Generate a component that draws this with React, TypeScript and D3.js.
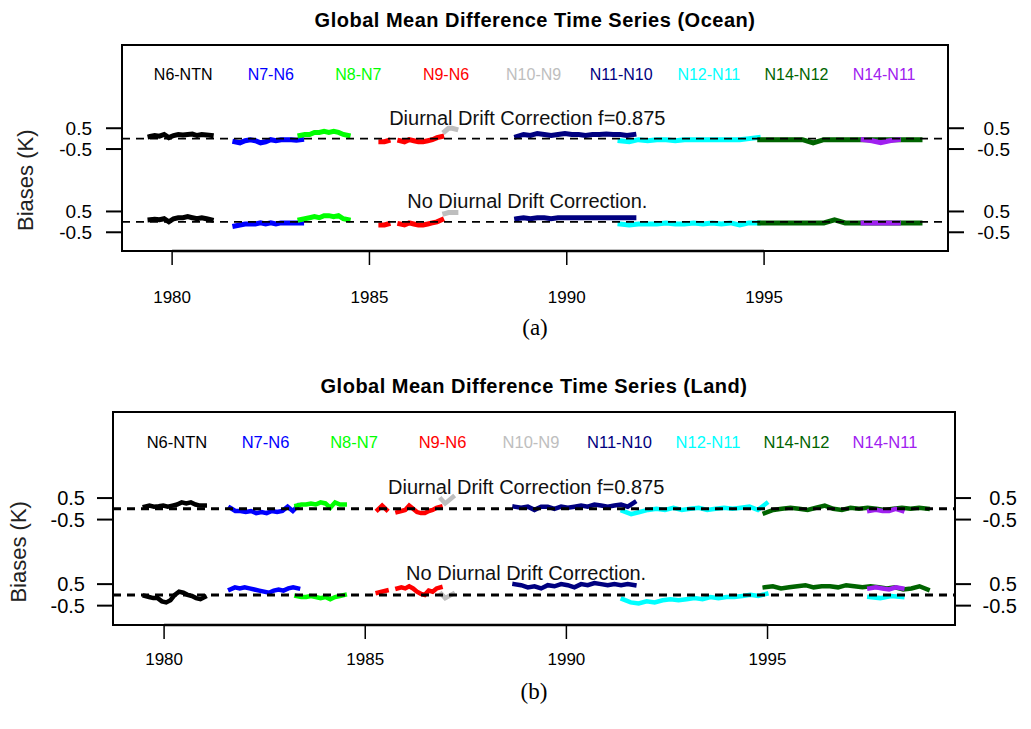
import React from 'react';
import * as d3 from 'd3';

// ---------------- data ----------------
const PAIRS = ['N6-NTN', 'N7-N6', 'N8-N7', 'N9-N6', 'N10-N9', 'N11-N10', 'N12-N11', 'N14-N12', 'N14-N11'];
const PAIR_COLORS = ['#000000', '#0000FF', '#00FF00', '#FF0000', '#BEBEBE', '#000080', '#00FFFF', '#006400', '#A020F0'];
const X_TICKS = [1980, 1985, 1990, 1995];
const Y_TICKS = [0.5, -0.5];
const Y_TICK_LABELS = ['0.5', '-0.5'];
const X_DOMAIN = [1978.73, 1999.66];
const Y_DOMAIN = [-1.4, 8.5];
const CORR_OFFSET = 4; // corrected series are drawn 4 K above the uncorrected ones
const LABEL_CORR = 'Diurnal Drift Correction f=0.875';
const LABEL_NOCORR = 'No Diurnal Drift Correction.';

// Ocean: segments (pair index, start year, end year)
const OCEAN_SEG_PAIR = [0, 1, 2, 3, 3, 4, 5, 6, 7, 8];
const OCEAN_SEG_START = [1979.44, 1981.59, 1983.24, 1985.29, 1985.77, 1986.91, 1988.73, 1991.35, 1994.89, 1997.51];
const OCEAN_SEG_END = [1980.99, 1983.28, 1984.46, 1985.47, 1986.83, 1987.19, 1991.70, 1994.85, 1998.95, 1998.40];

const OCEAN_CORR = [
  [0.1, 0.15, 0.12, 0.2, 0.05, 0.15, 0.2, 0.18, 0.2, 0.22, 0.15, 0.2, 0.18, 0.15],
  [-0.15, -0.2, -0.1, -0.05, -0.1, -0.2, -0.15, -0.05, -0.1, -0.05, -0.05, -0.05, -0.08, -0.05],
  [0.15, 0.2, 0.2, 0.3, 0.3, 0.35, 0.3, 0.35, 0.3, 0.2, 0.15],
  [-0.15, -0.15, -0.1],
  [-0.1, -0.15, -0.05, -0.1, -0.15, -0.15, -0.1, -0.05, 0.05, 0.1],
  [0.35, 0.5, 0.5, 0.45],
  [0.1, 0.2, 0.15, 0.25, 0.2, 0.15, 0.2, 0.25, 0.2, 0.2, 0.15, 0.2, 0.2, 0.22, 0.2, 0.2, 0.15, 0.2],
  [-0.1, -0.15, -0.05, -0.1, -0.05, -0.05, -0.1, -0.05, -0.05, -0.05, -0.05, -0.05, -0.05, -0.05, 0.0, 0.05],
  [-0.05, -0.05, -0.05, -0.05, -0.05, -0.2, -0.05, -0.05, -0.05, -0.05, -0.05, -0.05, -0.05, -0.05, -0.05, -0.05],
  [-0.05, -0.1, -0.2, -0.1, -0.05],
];

const OCEAN_NOCORR = [
  [0.1, 0.12, 0.1, 0.15, 0.0, 0.15, 0.2, 0.2, 0.25, 0.2, 0.15, 0.2, 0.15, 0.1],
  [-0.2, -0.15, -0.1, -0.1, -0.1, -0.05, -0.1, -0.05, -0.1, -0.05, -0.05, -0.05, -0.05, -0.05],
  [0.1, 0.15, 0.2, 0.25, 0.2, 0.3, 0.3, 0.25, 0.3, 0.15, 0.1],
  [-0.15, -0.15, -0.1],
  [-0.1, -0.15, -0.05, -0.1, -0.15, -0.15, -0.1, -0.05, 0.0, 0.1],
  [0.4, 0.45, 0.45, 0.45],
  [0.15, 0.2, 0.15, 0.2, 0.2, 0.15, 0.2, 0.2, 0.2, 0.2, 0.2, 0.2, 0.2, 0.2, 0.2, 0.2, 0.2, 0.2],
  [-0.1, -0.15, -0.1, -0.1, -0.1, -0.05, -0.1, -0.1, -0.05, -0.1, -0.05, -0.1, -0.05, -0.15, -0.05, -0.05],
  [-0.05, -0.05, -0.05, -0.05, -0.05, -0.05, -0.05, 0.1, -0.05, -0.05, -0.05, -0.05, -0.05, -0.05, -0.05, -0.05],
  [-0.05, -0.05, -0.05, -0.05, -0.05],
];

// Land: segments (pair index, start year, end year)
const LAND_SEG_PAIR = [0, 1, 2, 3, 3, 4, 5, 6, 6, 7, 8];
const LAND_SEG_START = [1979.52, 1981.64, 1983.29, 1985.31, 1985.80, 1986.89, 1988.71, 1991.40, 1997.53, 1994.93, 1997.53];
const LAND_SEG_END = [1981.01, 1983.33, 1984.49, 1985.53, 1986.87, 1987.18, 1991.69, 1994.97, 1998.35, 1998.98, 1998.35];

const LAND_CORR = [
  [0.1, 0.15, 0.1, 0.12, 0.15, 0.1, 0.15, 0.2, 0.3, 0.25, 0.3, 0.2, 0.15, 0.15],
  [0.05, -0.1, -0.1, -0.15, -0.1, -0.2, -0.15, -0.2, -0.1, -0.15, -0.1, 0.1, -0.1, 0.15],
  [0.15, 0.2, 0.2, 0.25, 0.2, 0.3, 0.25, 0.05, 0.3, 0.2, 0.2],
  [-0.05, 0.15, -0.05],
  [-0.15, -0.1, -0.05, 0.15, 0.0, -0.15, -0.2, -0.2, -0.1, -0.05, 0.05, 0.1],
  [0.45, 0.25, 0.4, 0.55],
  [0.1, 0.05, 0.1, -0.05, 0.1, 0.1, 0.0, 0.1, 0.05, 0.1, 0.15, 0.1, 0.2, 0.15, 0.1, 0.15, 0.2, 0.1, 0.3],
  [-0.1, -0.25, -0.15, -0.05, 0.0, -0.05, 0.05, -0.05, 0.0, 0.05, -0.05, 0.0, 0.05, 0.0, 0.05, 0.1, -0.05, 0.25],
  [],
  [-0.2, -0.05, 0.0, 0.05, 0.0, -0.05, 0.05, 0.15, 0.0, -0.05, 0.05, 0.0, 0.05, 0.0, -0.05, 0.0, 0.05, 0.0, 0.05, 0.0],
  [-0.1, -0.05, -0.1, -0.1, 0.0, -0.1],
];

const LAND_NOCORR = [
  [-0.05, -0.1, -0.15, -0.15, -0.3, -0.35, -0.25, 0.0, 0.15, 0.1, 0.0, -0.05, -0.15, -0.2, -0.1],
  [0.25, 0.35, 0.3, 0.35, 0.3, 0.25, 0.2, 0.15, 0.1, 0.2, 0.25, 0.2, 0.3, 0.35, 0.3],
  [-0.05, -0.1, -0.1, -0.05, -0.1, -0.15, -0.1, -0.2, -0.1, -0.05, 0.0],
  [0.1, 0.2],
  [0.3, 0.35, 0.3, 0.4, 0.3, 0.15, 0.05, 0.0, 0.2, 0.15, 0.3, 0.35],
  [0.05, -0.15, -0.05, 0.05],
  [0.5, 0.45, 0.35, 0.4, 0.3, 0.45, 0.4, 0.5, 0.45, 0.35, 0.5, 0.45, 0.55, 0.5, 0.45, 0.5, 0.45, 0.5, 0.45],
  [-0.2, -0.35, -0.4, -0.3, -0.35, -0.25, -0.2, -0.25, -0.2, -0.15, -0.2, -0.1, -0.15, -0.1, -0.1, -0.05, 0.0, -0.05, 0.05],
  [-0.1, -0.15, -0.05, -0.1],
  [0.35, 0.4, 0.3, 0.35, 0.4, 0.45, 0.35, 0.4, 0.4, 0.35, 0.45, 0.4, 0.35, 0.4, 0.35, 0.3, 0.35, 0.25, 0.3, 0.4, 0.25],
  [0.3, 0.35, 0.3, 0.25, 0.35, 0.3],
];

// ---------------- drawing ----------------
const FONT = "'Liberation Sans', Arial, Helvetica, sans-serif";

type PanelProps = {
  title: string;
  caption: string;
  left: number; right: number; top: number; bottom: number;
  segPair: number[]; segStart: number[]; segEnd: number[];
  corr: number[][]; nocorr: number[][];
  lineW: number; dashW: number; dash: string;
  legendFirst: number; legendLast: number; legendSize: number;
  titleY: number; tickLabelDy: number; captionY: number;
  ylabX: number; tickFont: number; leftLabelGap: number;
};

function Panel(p: PanelProps) {
  const x = d3.scaleLinear().domain(X_DOMAIN).range([p.left, p.right]);
  const y = d3.scaleLinear().domain(Y_DOMAIN).range([p.bottom, p.top]);
  const line = d3.line<[number, number]>().x(d => x(d[0])).y(d => y(d[1]));
  const legendX = d3.scalePoint<string>().domain(PAIRS).range([x(p.legendFirst), x(p.legendLast)]);
  const cx = (p.left + p.right) / 2;

  const rows: { vals: number[][]; off: number }[] = [
    { vals: p.corr, off: CORR_OFFSET },
    { vals: p.nocorr, off: 0 },
  ];

  const paths: JSX.Element[] = [];
  rows.forEach((row, ri) => {
    row.vals.forEach((vals, si) => {
      if (!vals.length) return;
      const s = p.segStart[si], e = p.segEnd[si];
      const pts: [number, number][] = vals.map((v, i) => [
        vals.length === 1 ? s : s + (e - s) * i / (vals.length - 1),
        v + row.off,
      ]);
      paths.push(
        <path key={`${ri}-${si}`} d={line(pts) || ''} fill="none"
          stroke={PAIR_COLORS[p.segPair[si]]} strokeWidth={p.lineW}
          strokeLinejoin="miter" strokeLinecap="square" />
      );
    });
  });

  const tickVals = rows.flatMap(r => Y_TICKS.map((t, i) => ({ v: t + r.off, label: Y_TICK_LABELS[i] })));
  const midY = (y(CORR_OFFSET) + y(0)) / 2;

  return (
    <g>
      <text x={cx} y={p.titleY} textAnchor="middle" dominantBaseline="central"
        fontFamily={FONT} fontWeight="bold" fontSize={20} letterSpacing={0.5}>{p.title}</text>
      {PAIRS.map((name, i) => (
        <text key={name} x={legendX(name)} y={y(7.1)} textAnchor="middle" dominantBaseline="central"
          fontFamily={FONT} fontSize={p.legendSize} fill={PAIR_COLORS[i]}>{name}</text>
      ))}
      <text x={x(1989)} y={y(5.0)} textAnchor="middle" dominantBaseline="central"
        fontFamily={FONT} fontSize={20} fill="#111">{LABEL_CORR}</text>
      <text x={x(1989)} y={y(1.0)} textAnchor="middle" dominantBaseline="central"
        fontFamily={FONT} fontSize={20} fill="#111">{LABEL_NOCORR}</text>
      {paths}
      {rows.map((r, i) => (
        <line key={'z' + i} x1={p.left} x2={p.right} y1={y(r.off)} y2={y(r.off)}
          stroke="#000" strokeWidth={p.dashW} strokeDasharray={p.dash} />
      ))}
      <rect x={p.left} y={p.top} width={p.right - p.left} height={p.bottom - p.top}
        fill="none" stroke="#000" strokeWidth={2} />
      {tickVals.map((t, i) => (
        <g key={'yt' + i}>
          <line x1={p.left - 16} x2={p.left} y1={y(t.v)} y2={y(t.v)} stroke="#000" strokeWidth={2} />
          <text x={p.left - p.leftLabelGap} y={y(t.v)} textAnchor="end" dominantBaseline="central"
            fontFamily={FONT} fontSize={p.tickFont}>{t.label}</text>
          <line x1={p.right} x2={p.right + 16} y1={y(t.v)} y2={y(t.v)} stroke="#000" strokeWidth={2} />
          <text x={p.right + 62} y={y(t.v)} textAnchor="end" dominantBaseline="central"
            fontFamily={FONT} fontSize={p.tickFont}>{t.label}</text>
        </g>
      ))}
      <line x1={x(X_TICKS[0])} x2={x(X_TICKS[X_TICKS.length - 1])} y1={p.bottom} y2={p.bottom}
        stroke="#000" strokeWidth={2.5} />
      {X_TICKS.map(t => (
        <g key={'xt' + t}>
          <line x1={x(t)} x2={x(t)} y1={p.bottom} y2={p.bottom + 14} stroke="#000" strokeWidth={1.5} />
          <text x={x(t)} y={p.bottom + p.tickLabelDy} textAnchor="middle" dominantBaseline="central"
            fontFamily={FONT} fontSize={17}>{t}</text>
        </g>
      ))}
      <text transform={`translate(${p.ylabX},${midY}) rotate(-90)`} textAnchor="middle"
        dominantBaseline="central" fontFamily={FONT} fontSize={22} fill="#222">Biases (K)</text>
      <text x={cx} y={p.captionY} textAnchor="middle" dominantBaseline="central"
        fontFamily="'Liberation Serif', 'Times New Roman', serif" fontSize={23}>{p.caption}</text>
    </g>
  );
}

export default function App() {
  return (
    <div style={{ position: 'absolute', left: 0, top: 0 }}>
      <svg width={1031} height={729} style={{ display: 'block', background: '#fff' }}>
        <Panel title="Global Mean Difference Time Series (Ocean)" caption="(a)"
          left={122} right={948} top={45} bottom={251}
          segPair={OCEAN_SEG_PAIR} segStart={OCEAN_SEG_START} segEnd={OCEAN_SEG_END}
          corr={OCEAN_CORR} nocorr={OCEAN_NOCORR}
          lineW={5} dashW={1.8} dash="8 6"
          legendFirst={1980.28} legendLast={1998.04} legendSize={16}
          titleY={20} tickLabelDy={46} captionY={327} ylabX={25} tickFont={19} leftLabelGap={30} />
        <Panel title="Global Mean Difference Time Series (Land)" caption="(b)"
          left={113} right={955} top={412} bottom={625}
          segPair={LAND_SEG_PAIR} segStart={LAND_SEG_START} segEnd={LAND_SEG_END}
          corr={LAND_CORR} nocorr={LAND_NOCORR}
          lineW={4.5} dashW={3} dash="8 6"
          legendFirst={1980.32} legendLast={1997.92} legendSize={16.5}
          titleY={386} tickLabelDy={34} captionY={691} ylabX={18} tickFont={20} leftLabelGap={28} />
      </svg>
    </div>
  );
}
